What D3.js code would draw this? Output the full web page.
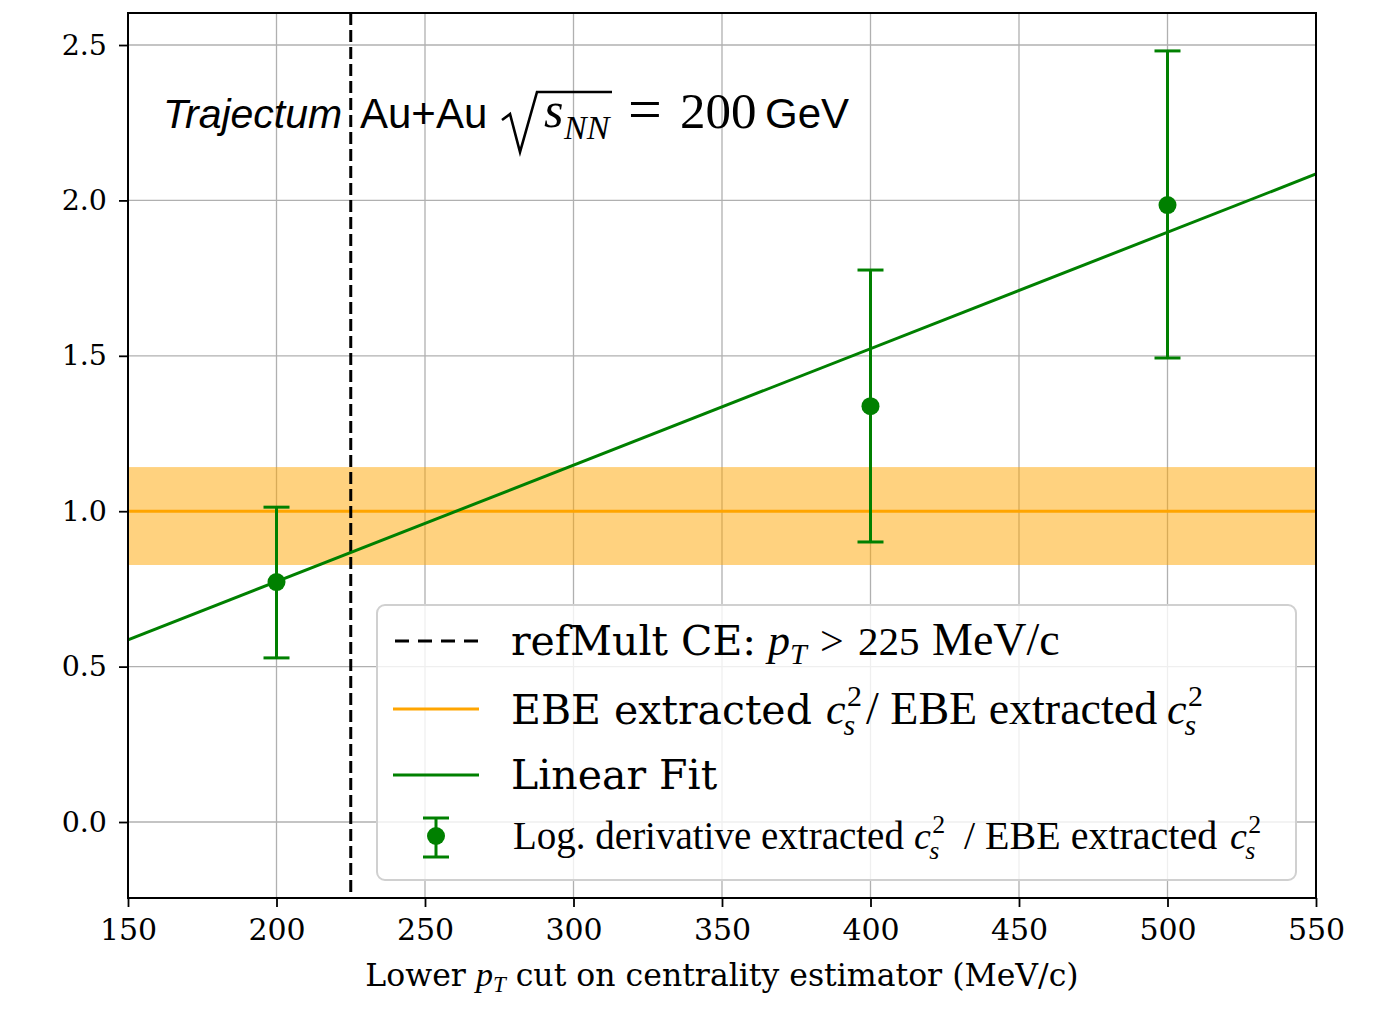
<!DOCTYPE html>
<html><head><meta charset="utf-8">
<script src="https://cdn.jsdelivr.net/npm/d3@7"></script>
<style>body{margin:0;background:#fff}</style>
</head><body>
<svg id="c" width="1382" height="1010"></svg>
<script>
const xTicks=[150,200,250,300,350,400,450,500,550];
const yTicks=[0.0,0.5,1.0,1.5,2.0,2.5];
const ptX=[200,400,500];
const ptY=[0.772,1.338,1.985];
const ptLo=[0.528,0.901,1.493];
const ptHi=[1.013,1.776,2.481];
const fitX=[150,550];
const fitY=[0.586,2.085];
const bandCenter=1.0, bandLo=0.827, bandHi=1.142;
const cutX=225;

const svg=d3.select("#c");
const L=128,R=1316,T=13,B=898;
const x=d3.scaleLinear().domain([150,550]).range([L,R]);
const y=d3.scaleLinear().domain([-0.2445,2.603]).range([B,T]);
const dv="'DejaVu Serif',serif";
const tm="'Liberation Serif','Times New Roman',serif";
const sans="'Liberation Sans',Arial,sans-serif";
const green="#008000", orange="#FFA500";
const LW=3;

svg.append("defs").append("clipPath").attr("id","clip").append("rect").attr("x",L).attr("y",T).attr("width",R-L).attr("height",B-T);

const g=svg.append("g");
g.selectAll(".gx").data(xTicks).join("line").attr("x1",d=>x(d)).attr("x2",d=>x(d)).attr("y1",T).attr("y2",B).attr("stroke","#b0b0b0").attr("stroke-width",1.3);
g.selectAll(".gy").data(yTicks).join("line").attr("x1",L).attr("x2",R).attr("y1",d=>y(d)).attr("y2",d=>y(d)).attr("stroke","#b0b0b0").attr("stroke-width",1.3);

const pl=svg.append("g").attr("clip-path","url(#clip)");
pl.append("rect").attr("x",L).attr("width",R-L).attr("y",y(bandHi)).attr("height",y(bandLo)-y(bandHi)).attr("fill",orange).attr("opacity",0.5);
pl.append("line").attr("x1",L).attr("x2",R).attr("y1",y(bandCenter)).attr("y2",y(bandCenter)).attr("stroke",orange).attr("stroke-width",LW);
pl.append("line").attr("x1",x(cutX)).attr("x2",x(cutX)).attr("y1",T).attr("y2",B).attr("stroke","#000").attr("stroke-width",LW).attr("stroke-dasharray","12,5");
pl.append("path").attr("d",d3.line().x((d,i)=>x(fitX[i])).y(d=>y(d))(fitY)).attr("stroke",green).attr("stroke-width",LW).attr("fill","none");
const eb=pl.append("g");
ptX.forEach((px,i)=>{
  eb.append("line").attr("x1",x(px)).attr("x2",x(px)).attr("y1",y(ptLo[i])).attr("y2",y(ptHi[i])).attr("stroke",green).attr("stroke-width",LW);
  [ptLo[i],ptHi[i]].forEach(v=>eb.append("line").attr("x1",x(px)-13).attr("x2",x(px)+13).attr("y1",y(v)).attr("y2",y(v)).attr("stroke",green).attr("stroke-width",LW));
  eb.append("circle").attr("cx",x(px)).attr("cy",y(ptY[i])).attr("r",9).attr("fill",green);
});

svg.append("rect").attr("x",L).attr("y",T).attr("width",R-L).attr("height",B-T).attr("fill","none").attr("stroke","#000").attr("stroke-width",2);

const xa=svg.append("g").attr("transform",`translate(0,${B})`).call(d3.axisBottom(x).tickValues(xTicks).tickFormat(d3.format("d")).tickSize(9).tickPadding(6));
xa.select(".domain").remove();
xa.selectAll("line").attr("stroke-width",1.8);
xa.selectAll("text").attr("font-family",dv).attr("font-size",30).attr("fill","#000").attr("dy","0.9em");
const ya=svg.append("g").attr("transform",`translate(${L},0)`).call(d3.axisLeft(y).tickValues(yTicks).tickFormat(d3.format(".1f")).tickSize(9).tickPadding(12));
ya.select(".domain").remove();
ya.selectAll("line").attr("stroke-width",1.8);
ya.selectAll("text").attr("font-family",dv).attr("font-size",28.5).attr("fill","#000");

const xl=svg.append("text").attr("x",(L+R)/2).attr("y",986).attr("text-anchor","middle").attr("font-family",dv).attr("font-size",31.5);
xl.append("tspan").text("Lower ");
xl.append("tspan").attr("font-family",tm).attr("font-style","italic").attr("font-size",34).text("p");
xl.append("tspan").attr("font-family",tm).attr("font-style","italic").attr("font-size",23).attr("dy",6).text("T");
xl.append("tspan").attr("dy",-6).text(" cut on centrality estimator (MeV/c)");

const tt=svg.append("g");
tt.append("text").attr("x",163).attr("y",128).attr("font-family",sans).attr("font-style","italic").attr("font-size",41).text("Trajectum");
tt.append("text").attr("x",360).attr("y",128).attr("font-family",sans).attr("font-size",42).text("Au+Au");
tt.append("path").attr("d","M502,120 L510,114 L520,152 L537,92 L612,92").attr("fill","none").attr("stroke","#000").attr("stroke-width",2.6);
tt.append("text").attr("x",544).attr("y",127).attr("font-family",tm).attr("font-style","italic").attr("font-size",50).text("s");
tt.append("text").attr("x",564).attr("y",139).attr("font-family",tm).attr("font-style","italic").attr("font-size",34).text("NN");
tt.append("text").attr("x",628).attr("y",129).attr("font-family",tm).attr("font-size",60).text("=");
tt.append("text").attr("x",680).attr("y",128).attr("font-family",tm).attr("font-size",51).text("200");
tt.append("text").attr("x",765).attr("y",128).attr("font-family",sans).attr("font-size",42).text("GeV");

const lg=svg.append("g");
lg.append("rect").attr("x",377).attr("y",605).attr("width",919).attr("height",275).attr("rx",8).attr("fill","#fff").attr("fill-opacity",0.8).attr("stroke","#d0d0d0").attr("stroke-width",2);
lg.append("line").attr("x1",395).attr("x2",478).attr("y1",641).attr("y2",641).attr("stroke","#000").attr("stroke-width",LW).attr("stroke-dasharray","14,9");
lg.append("line").attr("x1",393).attr("x2",479).attr("y1",709).attr("y2",709).attr("stroke",orange).attr("stroke-width",LW);
lg.append("line").attr("x1",393).attr("x2",479).attr("y1",775).attr("y2",775).attr("stroke",green).attr("stroke-width",LW);
lg.append("line").attr("x1",436).attr("x2",436).attr("y1",818).attr("y2",857).attr("stroke",green).attr("stroke-width",LW);
[818,857].forEach(v=>lg.append("line").attr("x1",423).attr("x2",449).attr("y1",v).attr("y2",v).attr("stroke",green).attr("stroke-width",LW));
lg.append("circle").attr("cx",436).attr("cy",836).attr("r",9).attr("fill",green);

function txt(xp,yp,s,fam,fs,italic){
  return lg.append("text").attr("x",xp).attr("y",yp).attr("font-family",fam).attr("font-size",fs).attr("font-style",italic?"italic":"normal").text(s);
}
function csq(xp,yp,fs){
  txt(xp,yp,"c",tm,fs,true);
  txt(xp+0.48*fs,yp-0.42*fs,"2",tm,fs*0.68,false);
  txt(xp+0.40*fs,yp+0.26*fs,"s",tm,fs*0.68,true);
}
txt(511,655,"refMult CE:",dv,41,false);
txt(768,655,"p",tm,44,true);
txt(790,664,"T",tm,30,true);
txt(820,655,">",tm,42,false);
txt(858,655,"225",tm,41,false);
txt(932,655,"MeV/c",tm,46,false);
txt(511,724,"EBE extracted",dv,41,false);
csq(826,724,44);
txt(866,724,"/ EBE extracted",tm,46,false);
csq(1167,724,44);
txt(511,789,"Linear Fit",dv,41,false);
txt(513,849,"Log. derivative extracted",tm,39,false);
csq(914,849,38);
txt(964,849,"/ EBE extracted",tm,40,false);
csq(1230,849,38);
</script>
</body></html>
